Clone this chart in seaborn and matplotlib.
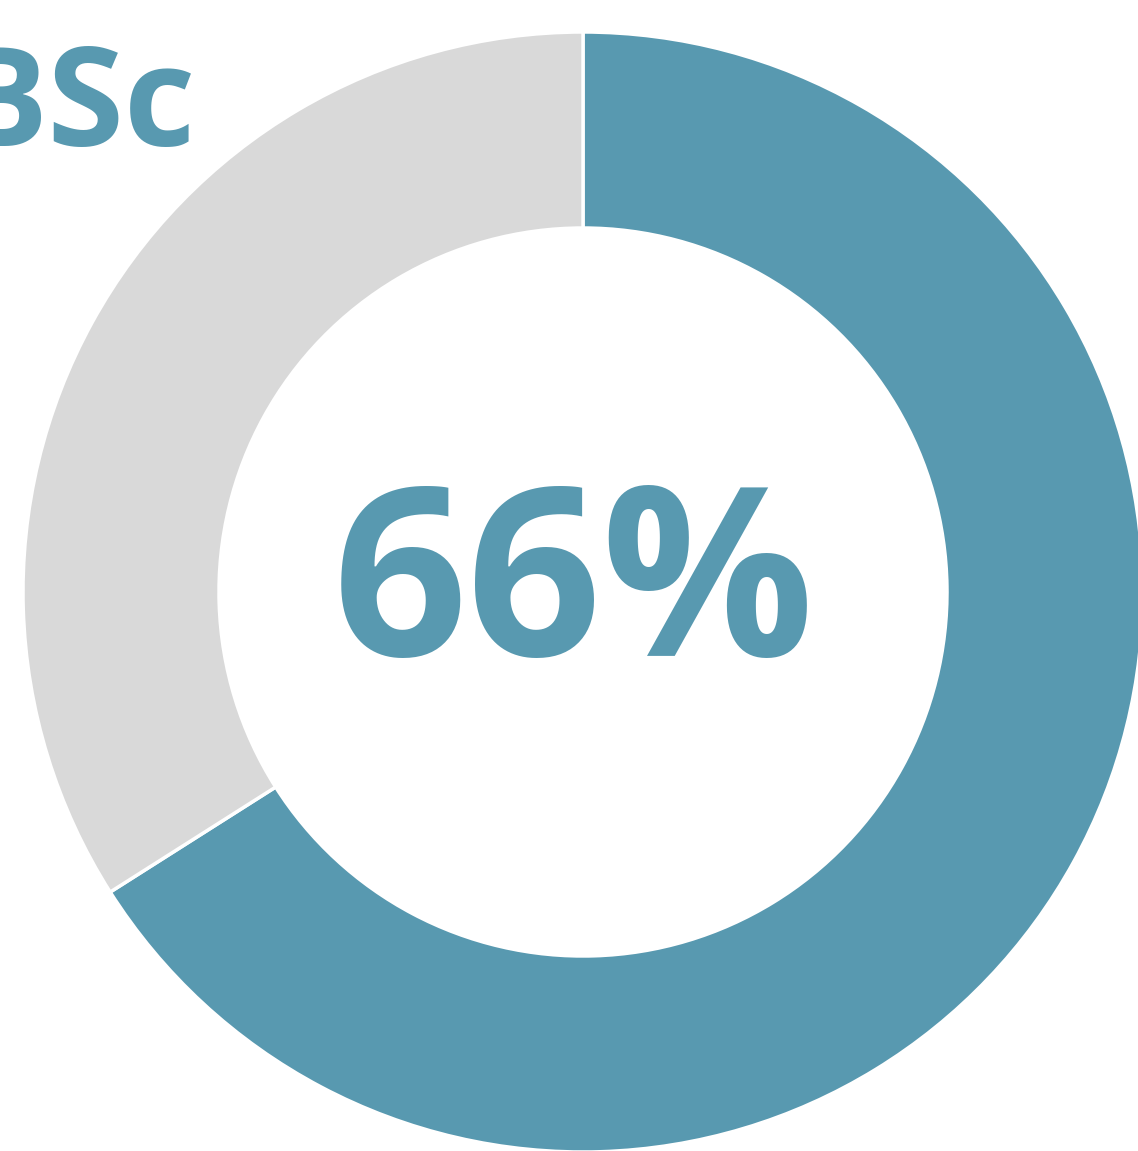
import matplotlib
matplotlib.use("Agg")
import matplotlib.pyplot as plt
import seaborn as sns

labels = ["BSc", "Other"]
shares = [66, 34]
colors = ["#5899b0", "#d9d9d9"]
title = "BSc"
center_label = "66%"

sns.set_theme(style="white")
plt.rcParams['font.family'] = ['Open Sans', 'DejaVu Sans']

W, H = 1138, 1151
fig = plt.figure(figsize=(W / 100, H / 100), dpi=100)
cx, cy, R = 583, H - 592, 560
ax = fig.add_axes([(cx - R) / W, (cy - R) / H, 2 * R / W, 2 * R / H])
ax.pie(shares, colors=colors, startangle=90, counterclock=False, radius=1,
       wedgeprops=dict(width=196 / 560, edgecolor="white", linewidth=2.5))
ax.set_xlim(-1, 1)
ax.set_ylim(-1, 1)
ax.set_aspect("equal")
ax.axis("off")

fig.text(574 / W, (H - 656) / H, center_label, ha="center", va="baseline",
         fontsize=170, fontweight="bold", color=colors[0])
fig.text(196 / W, (H - 146) / H, title, ha="right", va="baseline",
         fontsize=100, fontweight="bold", color=colors[0])

fig.savefig("out.png", dpi=100)
